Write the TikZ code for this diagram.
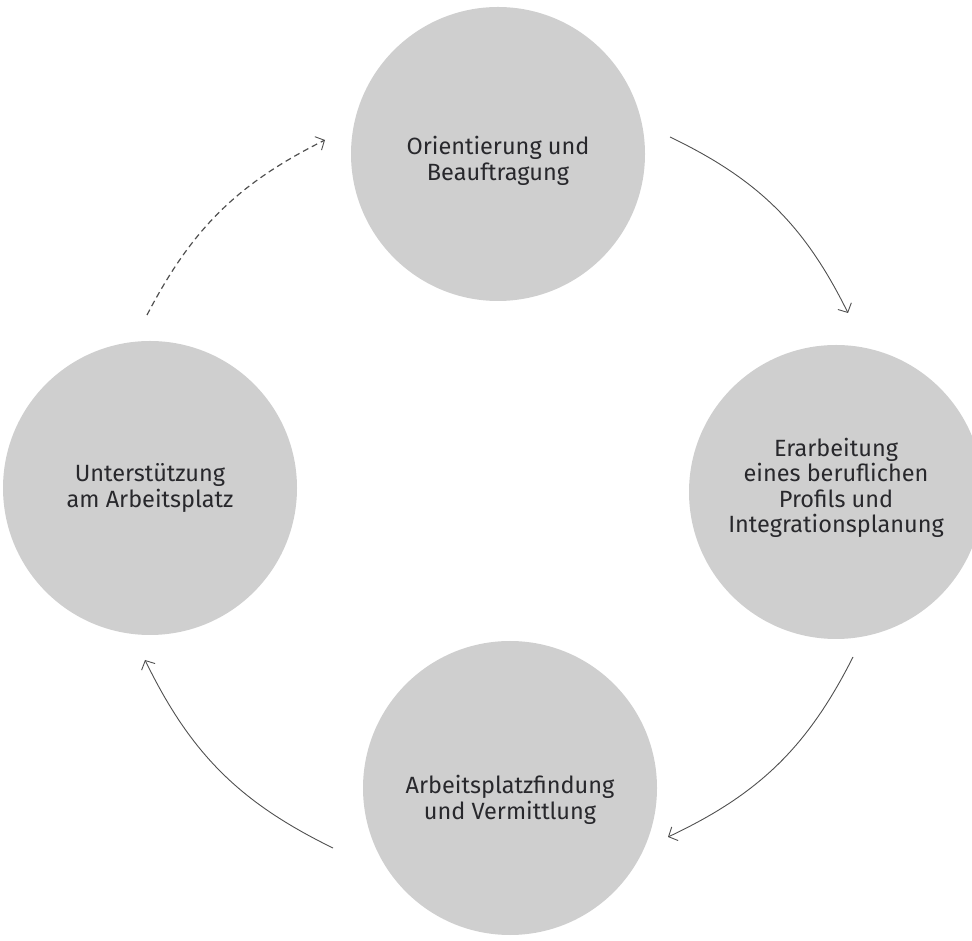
\documentclass[tikz,border=0pt]{standalone}
\usepackage{fontspec}
\setmainfont{Fira Sans}
\usetikzlibrary{arrows.meta}
\definecolor{discfill}{RGB}{207,207,207}
\definecolor{labeltext}{RGB}{40,40,44}
\definecolor{flowline}{RGB}{80,80,80}
\begin{document}
\begin{tikzpicture}[x=1pt,y=1pt,
  phase/.style={circle, fill=discfill, draw=none, minimum size=294pt, inner sep=0pt},
  caption/.style={align=center, text=labeltext, inner sep=0pt,
    font=\fontsize{23.5}{25.5}\selectfont},
  flow/.style={draw=flowline, line width=0.9pt,
    -{Straight Barb[length=7pt,width=15pt,line width=0.9pt]}},
  flowdash/.style={flow, dash pattern=on 6pt off 4pt, line width=1.2pt}
]
\useasboundingbox (0,0) rectangle (972,940);

% the four phases, each with its caption
\node[phase, label={[caption, yshift=-7pt]center:{Orientierung und\\Beauftragung}}]
  (orient) at (498,786) {};
\node[phase, label={[caption, yshift=4pt]center:{Erarbeitung\\eines beruflichen\\Profils und\\Integrationsplanung}}]
  (profil) at (836,448) {};
\node[phase, label={[caption, yshift=-12pt]center:{Arbeitsplatzfindung\\und Vermittlung}}]
  (vermitt) at (510,152) {};
\node[phase, label={[caption, yshift=0pt]center:{Unterstützung\\am Arbeitsplatz}}]
  (support) at (150,452) {};

% arrow ends
\coordinate (a1s) at (670,803);
\coordinate (a1e) at (848,627);
\coordinate (a2s) at (853,283);
\coordinate (a2e) at (668,103);
\coordinate (a3s) at (333,92);
\coordinate (a3e) at (145,280);
\coordinate (a4s) at (147,625);
\coordinate (a4e) at (325,800);

% clockwise cycle
\draw[flow] (a1s) to[bend left=19] (a1e);
\draw[flow] (a2s) to[bend left=19] (a2e);
\draw[flow] (a3s) to[bend left=19] (a3e);
\draw[flowdash] (a4s) to[bend left=18] (a4e);
\end{tikzpicture}
\end{document}
